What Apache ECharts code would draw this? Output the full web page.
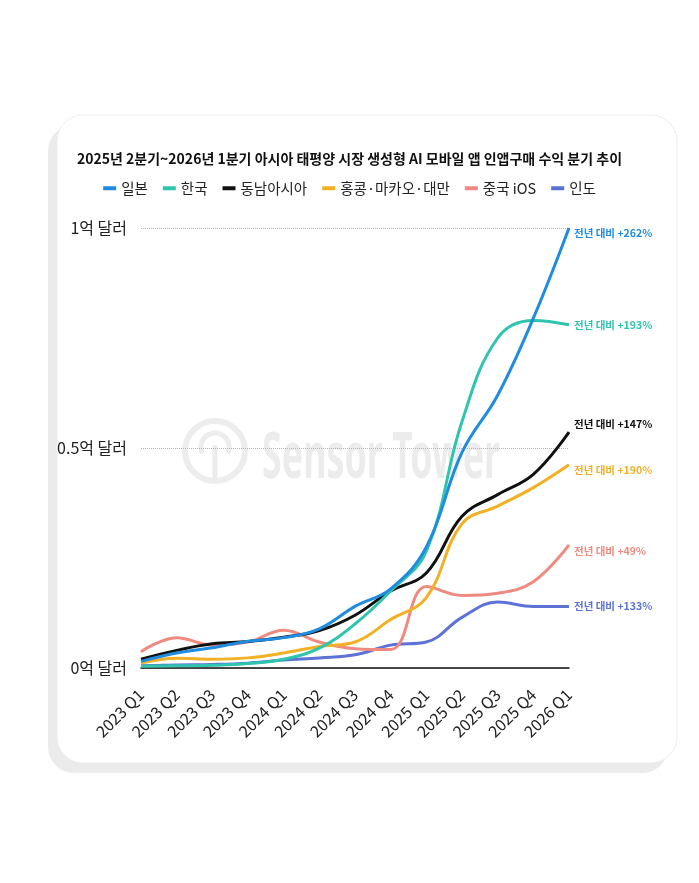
<!DOCTYPE html>
<html>
<head>
<meta charset="utf-8">
<script src="https://cdn.jsdelivr.net/npm/echarts@6/dist/echarts.min.js"></script>
<style>
  html, body { margin: 0; padding: 0; background: #fff; }
  #chart { width: 699px; height: 883px; }
</style>
</head>
<body>
<div id="chart"></div>
<script>
// 분기 (x축)
const quarters = ['2023 Q1', '2023 Q2', '2023 Q3', '2023 Q4', '2024 Q1', '2024 Q2', '2024 Q3',
  '2024 Q4', '2025 Q1', '2025 Q2', '2025 Q3', '2025 Q4', '2026 Q1']

// 단위: 억 달러 (그림에서 읽은 추정값)
const japan = [0.015, 0.034, 0.046, 0.061, 0.069, 0.089, 0.14, 0.18, 0.275, 0.49, 0.62, 0.795, 1.0]
const korea = [0.004, 0.005, 0.006, 0.01, 0.02, 0.045, 0.1, 0.175, 0.265, 0.56, 0.75, 0.79, 0.78]
const seAsia = [0.02, 0.04, 0.055, 0.06, 0.07, 0.085, 0.12, 0.175, 0.216, 0.345, 0.394, 0.44, 0.536]
const hkMoTw = [0.011, 0.022, 0.02, 0.023, 0.034, 0.049, 0.059, 0.11, 0.16, 0.328, 0.368, 0.41, 0.462]
const chinaIos = [0.037, 0.069, 0.052, 0.059, 0.086, 0.059, 0.044, 0.042, 0.185, 0.165, 0.17, 0.196, 0.28]
const india = [0.005, 0.007, 0.008, 0.011, 0.018, 0.023, 0.03, 0.052, 0.059, 0.115, 0.15, 0.14, 0.14]

const seriesNames = ['일본', '한국', '동남아시아', '홍콩·마카오·대만', '중국 iOS', '인도']
const yoyLabels = ['전년 대비 +262%', '전년 대비 +193%', '전년 대비 +147%', '전년 대비 +190%', '전년 대비 +49%', '전년 대비 +133%']
const yTicks = { 0: '0억 달러', 0.5: '0.5억 달러', 1: '1억 달러' }

const colors = ['#1f8ce0', '#2ec4ae', '#111111', '#f2b124', '#ef8a80', '#5d72d6']
const labelOffsets = [5, 0, -8, 5, 6, 0]
const font = '"Noto Sans CJK KR", "Noto Sans", sans-serif'

const chart = echarts.init(document.getElementById('chart'))

function makeSeries() {
  const all = [japan, korea, seAsia, hkMoTw, chinaIos, india]
  const ret = []
  // 뒤에 그린 선이 위로 오게: 인도 -> 일본 순
  for (let i = all.length - 1; i >= 0; i--) {
    ret.push({
      name: seriesNames[i],
      type: 'line',
      smooth: 0.4,
      symbol: 'none',
      z: 10 + (all.length - i),
      lineStyle: { width: 3, color: colors[i] },
      itemStyle: { color: colors[i] },
      endLabel: {
        show: true,
        formatter: yoyLabels[i],
        color: colors[i],
        fontFamily: font,
        fontWeight: 'bold',
        fontSize: 10.5,
        distance: 5,
        offset: [0, labelOffsets[i]]
      },
      data: all[i]
    })
  }
  return ret
}

chart.setOption({
  animation: false,
  backgroundColor: '#fff',
  textStyle: { fontFamily: font },
  graphic: [
    // 카드 그림자
    {
      type: 'rect', z: -10, silent: true,
      shape: { x: 48, y: 125, width: 620, height: 648, r: 26 },
      style: { fill: '#ebebeb' }
    },
    // 카드
    {
      type: 'rect', z: -9, silent: true,
      shape: { x: 57, y: 115, width: 620, height: 648, r: 26 },
      style: { fill: '#fff', stroke: '#eeeeee', lineWidth: 1 }
    },
    // 워터마크
    {
      type: 'circle', z: -5, silent: true,
      shape: { cx: 215, cy: 451, r: 30 },
      style: { fill: 'none', stroke: '#ededed', lineWidth: 6 }
    },
    {
      type: 'arc', z: -5, silent: true,
      shape: { cx: 215, cy: 447, r: 14, startAngle: Math.PI * 0.85, endAngle: Math.PI * 2.15 },
      style: { fill: 'none', stroke: '#ededed', lineWidth: 5 }
    },
    {
      type: 'line', z: -5, silent: true,
      shape: { x1: 215, y1: 445, x2: 215, y2: 478 },
      style: { stroke: '#ededed', lineWidth: 5 }
    },
    {
      type: 'text', z: -5, silent: true,
      x: 262, y: 428, scaleX: 0.56,
      style: {
        text: 'Sensor Tower',
        font: 'bold 64px "Noto Sans", sans-serif',
        fill: '#ececec'
      }
    }
  ],
  title: {
    text: '2025년 2분기~2026년 1분기 아시아 태평양 시장 생성형 AI 모바일 앱 인앱구매 수익 분기 추이',
    left: 'center',
    top: 147,
    textStyle: { fontFamily: font, fontSize: 14, fontWeight: 'bold', color: '#111' }
  },
  legend: {
    data: seriesNames,
    top: 176,
    left: 'center',
    icon: 'rect',
    itemWidth: 13,
    itemHeight: 4,
    itemGap: 15,
    textStyle: { fontFamily: font, fontSize: 14.5, color: '#222' }
  },
  grid: {
    left: 141,
    right: 130,
    top: 228,
    bottom: 215,
    containLabel: false
  },
  xAxis: {
    type: 'category',
    boundaryGap: false,
    data: quarters,
    axisLine: { lineStyle: { color: '#111', width: 1.5 } },
    axisTick: { show: false },
    axisLabel: {
      rotate: 45,
      margin: 24,
      fontSize: 16,
      color: '#222',
      fontFamily: font,
      interval: 0
    },
    splitLine: { show: false }
  },
  yAxis: {
    type: 'value',
    min: 0,
    max: 1,
    interval: 0.5,
    axisLine: { show: false },
    axisTick: { show: false },
    axisLabel: {
      margin: 14,
      fontSize: 16,
      color: '#222',
      fontFamily: font,
      formatter: function(v) { return yTicks[v] }
    },
    splitLine: { lineStyle: { type: 'dotted', color: '#b5b5b5', width: 1 } }
  },
  series: makeSeries()
})
</script>
</body>
</html>
